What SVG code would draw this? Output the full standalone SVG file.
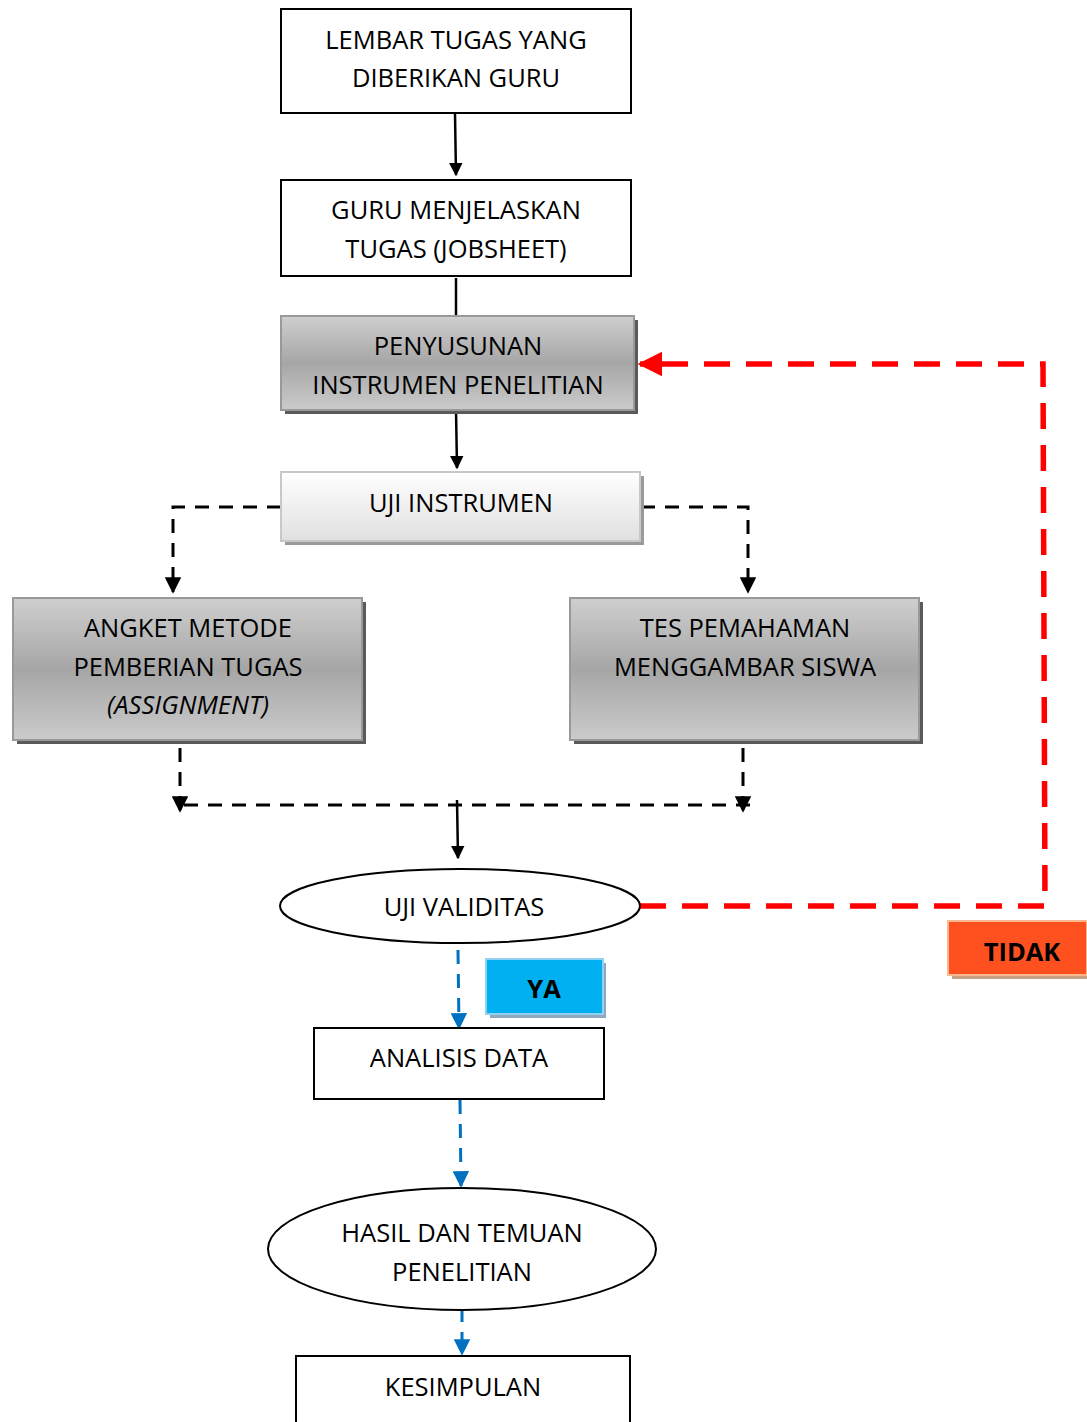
<svg xmlns="http://www.w3.org/2000/svg" width="1087" height="1422" viewBox="0 0 1087 1422">
<defs>
<linearGradient id="gGray" x1="0" y1="0" x2="0" y2="1">
<stop offset="0" stop-color="#cfcfcf"/><stop offset="0.5" stop-color="#a6a6a6"/><stop offset="1" stop-color="#cbcbcb"/>
</linearGradient>
<linearGradient id="gLight" x1="0" y1="0" x2="0" y2="1">
<stop offset="0" stop-color="#ffffff"/><stop offset="1" stop-color="#e0e0e0"/>
</linearGradient>
<marker id="aBlack" viewBox="0 0 10 10" refX="9" refY="5" markerWidth="5.5" markerHeight="5.5" orient="auto" markerUnits="strokeWidth">
<path d="M0,0 L10,5 L0,10 z" fill="#000"/>
</marker>
<marker id="aBlue" viewBox="0 0 10 10" refX="9" refY="5" markerWidth="5.5" markerHeight="5.5" orient="auto" markerUnits="strokeWidth">
<path d="M0,0 L10,5 L0,10 z" fill="#0070c0"/>
</marker>
<marker id="aRed" viewBox="0 0 10 10" refX="9" refY="5" markerWidth="4.5" markerHeight="4.5" orient="auto" markerUnits="strokeWidth">
<path d="M0,0 L10,5 L0,10 z" fill="#ff0000"/>
</marker>
</defs>
<style>
text{font-family:"Open Sans","Liberation Sans",sans-serif;font-size:25.5px;fill:#000;text-anchor:middle;dominant-baseline:central}
.box{fill:#fff;stroke:#000;stroke-width:2}
.gray{fill:url(#gGray);stroke:#999;stroke-width:2}
.shadow{fill:#5a5a5a}
.solid{stroke:#000;stroke-width:2.5;fill:none}
.dash{stroke:#000;stroke-width:3;fill:none;stroke-dasharray:14,10}
.bdash{stroke:#0070c0;stroke-width:3;fill:none;stroke-dasharray:14,10}
.rdash{stroke:#ff0000;stroke-width:5.5;fill:none;stroke-dasharray:26,16}
.bold{font-weight:bold}
</style>
<g id="connectors">
<line class="solid" x1="455" y1="114" x2="456" y2="175" marker-end="url(#aBlack)"/>
<line class="solid" x1="456" y1="278" x2="456" y2="316"/>
<line class="solid" x1="456" y1="410" x2="457" y2="468" marker-end="url(#aBlack)"/>
<polyline class="dash" points="281,507 173,507 173,592" marker-end="url(#aBlack)"/>
<polyline class="dash" points="641,507 748,507 748,592" marker-end="url(#aBlack)"/>
<line class="dash" x1="180" y1="748" x2="180" y2="811" marker-end="url(#aBlack)"/>
<line class="dash" x1="743" y1="748" x2="743" y2="811" marker-end="url(#aBlack)"/>
<line class="dash" x1="184" y1="805" x2="756" y2="805"/>
<line class="solid" x1="457" y1="800" x2="458" y2="858" marker-end="url(#aBlack)"/>
<polyline class="rdash" points="640,906 1045,906 1043,364 640,364" marker-end="url(#aRed)"/>
<line class="bdash" x1="458" y1="950" x2="459" y2="1028" marker-end="url(#aBlue)"/>
<line class="bdash" x1="460" y1="1100" x2="461" y2="1186" marker-end="url(#aBlue)"/>
<line class="bdash" x1="462" y1="1308" x2="462" y2="1354" marker-end="url(#aBlue)"/>
</g>
<g id="n1"><rect class="box" x="281" y="9" width="350" height="104"/><text x="456" y="39">LEMBAR TUGAS YANG</text><text x="456" y="77">DIBERIKAN GURU</text></g>
<g id="n2"><rect class="box" x="281" y="180" width="350" height="96"/><text x="456" y="209">GURU MENJELASKAN</text><text x="456" y="248">TUGAS (JOBSHEET)</text></g>
<g id="n3"><rect class="shadow" x="285" y="320" width="353" height="94"/><rect class="gray" x="281" y="316" width="353" height="94"/><text x="458" y="345">PENYUSUNAN</text><text x="458" y="384">INSTRUMEN PENELITIAN</text></g>
<g id="n4"><rect fill="#9a9a9a" x="285" y="476" width="359" height="69"/><rect fill="url(#gLight)" stroke="#c8c8c8" stroke-width="2" x="281" y="472" width="359" height="69"/><text x="461" y="502">UJI INSTRUMEN</text></g>
<g id="n5"><rect class="shadow" x="17" y="602" width="349" height="142"/><rect class="gray" x="13" y="598" width="349" height="142"/><text x="188" y="627">ANGKET METODE</text><text x="188" y="666">PEMBERIAN TUGAS</text><text x="188" y="704" font-style="italic">(ASSIGNMENT)</text></g>
<g id="n6"><rect class="shadow" x="574" y="602" width="349" height="142"/><rect class="gray" x="570" y="598" width="349" height="142"/><text x="745" y="627">TES PEMAHAMAN</text><text x="745" y="666">MENGGAMBAR SISWA</text></g>
<g id="n7"><ellipse cx="460" cy="906" rx="180" ry="37" fill="#fff" stroke="#000" stroke-width="2"/><text x="464" y="906">UJI VALIDITAS</text></g>
<g id="n8"><rect fill="#c8a080" x="952" y="925" width="135" height="54"/><rect fill="#ff5020" stroke="#f8b890" stroke-width="2" x="948" y="921" width="139" height="54"/><text class="bold" x="1022" y="951">TIDAK</text></g>
<g id="n9"><rect fill="#90a8c0" x="490" y="963" width="116" height="55"/><rect fill="#00b0f0" stroke="#90d0f0" stroke-width="2" x="486" y="959" width="117" height="55"/><text class="bold" x="544" y="988">YA</text></g>
<g id="n10"><rect class="box" x="314" y="1028" width="290" height="71"/><text x="459" y="1057">ANALISIS DATA</text></g>
<g id="n11"><ellipse cx="462" cy="1249" rx="194" ry="61" fill="#fff" stroke="#000" stroke-width="2"/><text x="462" y="1232">HASIL DAN TEMUAN</text><text x="462" y="1271">PENELITIAN</text></g>
<g id="n12"><rect class="box" x="296" y="1356" width="334" height="80"/><text x="463" y="1386">KESIMPULAN</text></g>
</svg>
